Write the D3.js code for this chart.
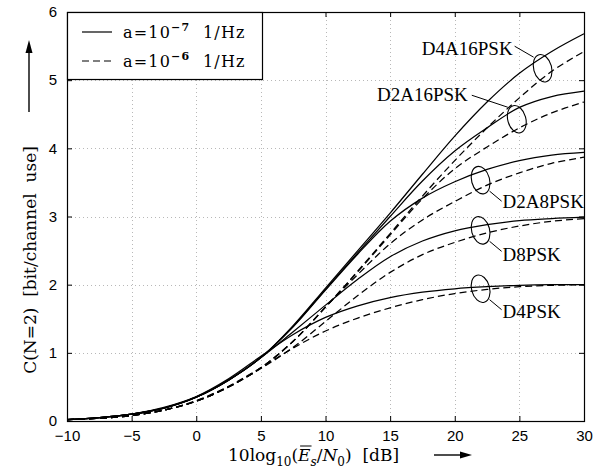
<!DOCTYPE html>
<html>
<head>
<meta charset="utf-8">
<script src="https://cdn.jsdelivr.net/npm/d3@7"></script>
<style>
  html, body { margin: 0; padding: 0; background: #fff; }
  svg { display: block; }
  text { white-space: pre; }
</style>
</head>
<body>
<svg id="chart" width="604" height="473"></svg>
<script>
// Es/N0 grid in dB
const snrDb = [-10, -7.5, -5, -2.5, 0, 2.5, 5, 7.5, 10, 12.5, 15, 17.5, 20, 22.5, 25, 27.5, 30];

// Capacity C(N=2) in bit/channel use; "Lo" = a=1e-7 1/Hz (solid), "Hi" = a=1e-6 1/Hz (dashed)
const d4a16Lo = [0.02, 0.05, 0.10, 0.19, 0.35, 0.60, 0.93, 1.40, 1.95, 2.50, 3.05, 3.62, 4.18, 4.68, 5.10, 5.42, 5.68];
const d4a16Hi = [0.02, 0.04, 0.08, 0.16, 0.29, 0.50, 0.78, 1.17, 1.67, 2.20, 2.75, 3.30, 3.82, 4.30, 4.74, 5.13, 5.42];
const d2a16Lo = [0.02, 0.05, 0.10, 0.19, 0.35, 0.60, 0.93, 1.39, 1.93, 2.47, 3.00, 3.52, 3.96, 4.30, 4.60, 4.76, 4.84];
const d2a16Hi = [0.02, 0.04, 0.08, 0.16, 0.29, 0.50, 0.78, 1.17, 1.67, 2.19, 2.73, 3.26, 3.70, 4.02, 4.30, 4.52, 4.68];
const d2a8Lo  = [0.02, 0.05, 0.10, 0.19, 0.35, 0.60, 0.93, 1.38, 1.92, 2.45, 2.93, 3.27, 3.51, 3.69, 3.82, 3.90, 3.94];
const d2a8Hi  = [0.02, 0.04, 0.08, 0.16, 0.29, 0.50, 0.78, 1.17, 1.67, 2.15, 2.60, 2.95, 3.22, 3.46, 3.64, 3.78, 3.87];
const d8Lo    = [0.02, 0.05, 0.10, 0.19, 0.35, 0.60, 0.93, 1.31, 1.70, 2.08, 2.41, 2.64, 2.79, 2.88, 2.94, 2.97, 2.99];
const d8Hi    = [0.02, 0.04, 0.08, 0.16, 0.29, 0.50, 0.77, 1.08, 1.46, 1.84, 2.18, 2.44, 2.62, 2.76, 2.86, 2.93, 2.97];
const d4Lo    = [0.02, 0.05, 0.10, 0.20, 0.36, 0.62, 0.95, 1.27, 1.52, 1.69, 1.81, 1.89, 1.94, 1.97, 1.99, 2.00, 2.00];
const d4Hi    = [0.02, 0.04, 0.08, 0.16, 0.30, 0.51, 0.78, 1.07, 1.32, 1.51, 1.66, 1.78, 1.87, 1.93, 1.97, 1.99, 2.00];

const schemes = ["D4A16PSK", "D2A16PSK", "D2A8PSK", "D8PSK", "D4PSK"];
const solidSeries = [d4a16Lo, d2a16Lo, d2a8Lo, d8Lo, d4Lo];
const dashedSeries = [d4a16Hi, d2a16Hi, d2a8Hi, d8Hi, d4Hi];
// Es/N0 (dB) where each scheme's pair of curves is circled
const markDb = [26.8, 24.8, 22.0, 22.0, 22.0];

const xTicks = [-10, -5, 0, 5, 10, 15, 20, 25, 30];
const yTicks = [0, 1, 2, 3, 4, 5, 6];
const legendLabels = [["a=10", "\u22127", "  1/Hz"], ["a=10", "\u22126", "  1/Hz"]];

// ---- layout ----
const box = { left: 67, right: 584, top: 12, bottom: 421 };
const svg = d3.select("#chart");

const x = d3.scaleLinear().domain([-10, 30]).range([box.left, box.right]);
const y = d3.scaleLinear().domain([0, 6]).range([box.bottom, box.top]);

const tickFont = "'Liberation Sans', Arial, sans-serif";
const serif = "'DejaVu Serif', serif";
const labelSerif = "'Liberation Serif', 'Times New Roman', serif";

// grid
const grid = svg.append("g").attr("stroke", "#b8b8b8").attr("stroke-width", 1)
  .attr("stroke-dasharray", "1,3");
grid.selectAll("line.gx").data(xTicks.slice(1, -1)).join("line")
  .attr("x1", d => Math.round(x(d)) + 0.5).attr("x2", d => Math.round(x(d)) + 0.5)
  .attr("y1", box.top).attr("y2", box.bottom);
grid.selectAll("line.gy").data(yTicks.slice(1, -1)).join("line")
  .attr("y1", d => Math.round(y(d)) + 0.5).attr("y2", d => Math.round(y(d)) + 0.5)
  .attr("x1", box.left).attr("x2", box.right);

// axes with inward ticks on all four sides
const fmt = d => d < 0 ? "\u2212" + Math.abs(d) : String(d);
const axB = svg.append("g").attr("transform", `translate(0,${box.bottom})`)
  .call(d3.axisBottom(x).tickValues(xTicks).tickSizeInner(-5).tickSizeOuter(0).tickPadding(9).tickFormat(fmt));
const axT = svg.append("g").attr("transform", `translate(0,${box.top})`)
  .call(d3.axisTop(x).tickValues(xTicks).tickSizeInner(-5).tickSizeOuter(0).tickFormat(""));
const axL = svg.append("g").attr("transform", `translate(${box.left},0)`)
  .call(d3.axisLeft(y).tickValues(yTicks).tickSizeInner(-5).tickSizeOuter(0).tickPadding(10).tickFormat(d3.format("d")));
const axR = svg.append("g").attr("transform", `translate(${box.right},0)`)
  .call(d3.axisRight(y).tickValues(yTicks).tickSizeInner(-5).tickSizeOuter(0).tickFormat(""));
[axB, axT, axL, axR].forEach(g => {
  g.select(".domain").remove();
  g.selectAll("line").attr("stroke", "#000");
  g.selectAll("text").attr("font-family", tickFont).attr("font-size", 15).attr("fill", "#000");
});

// curves
const line = d3.line().x((d, i) => x(snrDb[i])).y(d => y(d)).curve(d3.curveCatmullRom.alpha(0.5));
const curves = svg.append("g").attr("fill", "none").attr("stroke", "#000").attr("stroke-width", 1.25);
curves.selectAll("path.solid").data(solidSeries).join("path").attr("class", "solid").attr("d", line);
curves.selectAll("path.dashed").data(dashedSeries).join("path").attr("class", "dashed")
  .attr("d", line).attr("stroke-dasharray", "7,4");

// frame
svg.append("rect").attr("x", box.left + 0.5).attr("y", box.top + 0.5)
  .attr("width", box.right - box.left).attr("height", box.bottom - box.top)
  .attr("fill", "none").attr("stroke", "#000").attr("stroke-width", 1.2);

// annotations: ellipse around both curves, leader and name
const interp = (arr, v) => {
  const i = d3.bisectRight(snrDb, v) - 1;
  const j = Math.min(i + 1, snrDb.length - 1);
  const t = j === i ? 0 : (v - snrDb[i]) / (snrDb[j] - snrDb[i]);
  return arr[i] + t * (arr[j] - arr[i]);
};
// leader start/end offsets and text anchor offsets relative to the ellipse centre
const annotLayout = [
  { lead: [-28, -22, -9, -11], text: [-30, -13], anchor: "end" },
  { lead: [-45, -24, -9, -12], text: [-49, -18], anchor: "end" },
  { lead: [9, 11, 21, 21], text: [22, 28], anchor: "start" },
  { lead: [9, 11, 21, 21], text: [22, 31], anchor: "start" },
  { lead: [9, 11, 21, 21], text: [22, 29], anchor: "start" }
];
const ann = svg.append("g");
schemes.forEach((name, k) => {
  const cx = x(markDb[k]);
  const cy = y((interp(solidSeries[k], markDb[k]) + interp(dashedSeries[k], markDb[k])) / 2);
  const L = annotLayout[k];
  ann.append("ellipse").attr("cx", cx).attr("cy", cy).attr("rx", 9).attr("ry", 14)
    .attr("transform", `rotate(-15,${cx},${cy})`)
    .attr("fill", "none").attr("stroke", "#000").attr("stroke-width", 1.1);
  ann.append("line").attr("x1", cx + L.lead[0]).attr("y1", cy + L.lead[1])
    .attr("x2", cx + L.lead[2]).attr("y2", cy + L.lead[3])
    .attr("stroke", "#000").attr("stroke-width", 1);
  ann.append("text").attr("x", cx + L.text[0]).attr("y", cy + L.text[1])
    .attr("text-anchor", L.anchor).attr("font-family", labelSerif).attr("font-size", 19)
    .text(name);
});

// legend
const lg = svg.append("g");
lg.append("rect").attr("x", box.left + 0.5).attr("y", box.top + 0.5).attr("width", 195).attr("height", 67)
  .attr("fill", "#fff").attr("stroke", "#000").attr("stroke-width", 1.2);
legendLabels.forEach((parts, i) => {
  const ly = 32 + i * 29;
  lg.append("line").attr("x1", 82).attr("x2", 112).attr("y1", ly).attr("y2", ly)
    .attr("stroke", "#000").attr("stroke-width", 1.2)
    .attr("stroke-dasharray", i === 0 ? null : "7,4");
  const t = lg.append("text").attr("x", 123).attr("y", ly + 6)
    .attr("font-family", serif).attr("font-size", 16).attr("letter-spacing", 1.2);
  t.append("tspan").text(parts[0]);
  t.append("tspan").attr("dy", -7).attr("font-size", 11).attr("font-weight", "bold").text(parts[1]);
  t.append("tspan").attr("dy", 7).text(parts[2]);
});

// x-axis title
const xt = svg.append("text").attr("x", 228).attr("y", 461)
  .attr("font-family", serif).attr("font-size", 17);
xt.append("tspan").text("10log");
xt.append("tspan").attr("dy", 5).attr("font-size", 12).text("10");
xt.append("tspan").attr("dy", -5).text("(");
xt.append("tspan").attr("font-style", "italic").text("E");
xt.append("tspan").attr("dy", 5).attr("font-size", 12).attr("font-style", "italic").text("s");
xt.append("tspan").attr("dy", -5).text("/");
xt.append("tspan").attr("font-style", "italic").text("N");
xt.append("tspan").attr("dy", 5).attr("font-size", 12).text("0");
xt.append("tspan").attr("dy", -5).text(")  [dB]");
const eBox = xt.node().getExtentOfChar(8);
svg.append("line").attr("x1", eBox.x + 2).attr("x2", eBox.x + eBox.width + 1)
  .attr("y1", eBox.y + 1).attr("y2", eBox.y + 1).attr("stroke", "#000").attr("stroke-width", 1);

// x arrow
svg.append("line").attr("x1", 434).attr("x2", 462).attr("y1", 455).attr("y2", 455)
  .attr("stroke", "#000").attr("stroke-width", 1.4);
svg.append("path").attr("d", "M472,455 L460,451.5 L460,458.5 Z").attr("fill", "#000");

// y-axis title
svg.append("text").attr("transform", "translate(36,260) rotate(-90)")
  .attr("text-anchor", "middle").attr("font-family", serif).attr("font-size", 17)
  .text("C(N=2)  [bit/channel  use]");
// y arrow
svg.append("line").attr("x1", 29).attr("x2", 29).attr("y1", 112).attr("y2", 52)
  .attr("stroke", "#000").attr("stroke-width", 1.4);
svg.append("path").attr("d", "M29,40 L25.5,53 L32.5,53 Z").attr("fill", "#000");
</script>
</body>
</html>
